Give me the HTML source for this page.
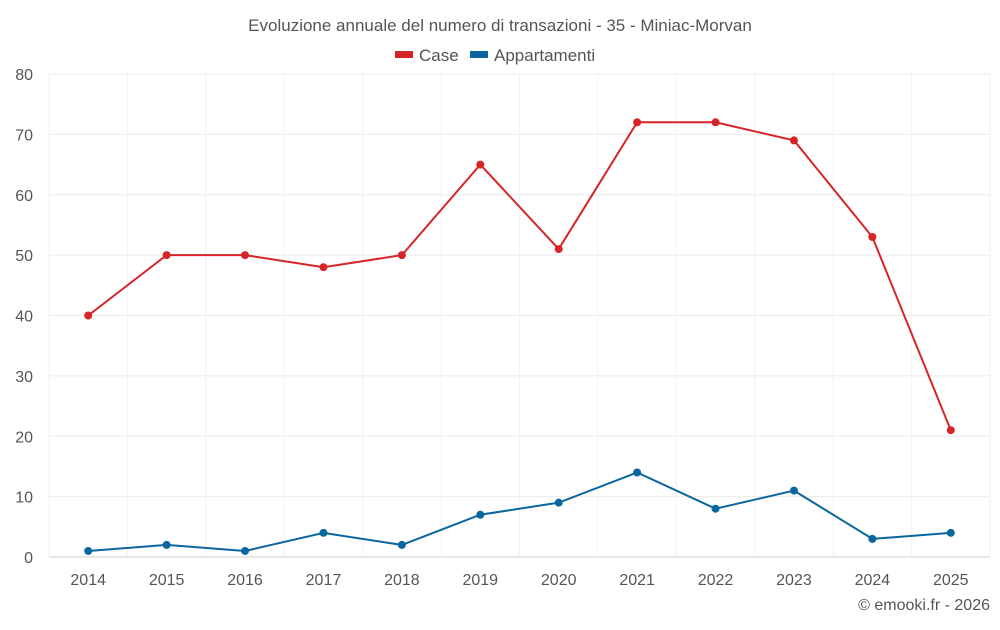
<!DOCTYPE html>
<html><head><meta charset="utf-8"><style>
body{margin:0;background:#fff;font-family:"Liberation Sans",sans-serif;}
svg text{font-family:"Liberation Sans",sans-serif;}
</style></head><body>
<svg id="c" width="1000" height="625">
<text x="500" y="31" text-anchor="middle" font-size="17" fill="#555">Evoluzione annuale del numero di transazioni - 35 - Miniac-Morvan</text>
<g>
<g><rect x="395" y="51" width="18" height="7" fill="#d62528"/><text x="419" y="61" font-size="17" fill="#555">Case</text></g>
<g><rect x="470" y="51" width="18" height="7" fill="#0a679e"/><text x="494" y="61" font-size="17" fill="#555">Appartamenti</text></g>
</g>
<g id="grid"></g>
<g id="axes"></g>
<g id="series"></g>
<text x="990" y="610" text-anchor="end" font-size="16" fill="#555">© emooki.fr - 2026</text>
</svg>
<script>
const categories=["2014","2015","2016","2017","2018","2019","2020","2021","2022","2023","2024","2025"];
const caseValues=[40,50,50,48,50,65,51,72,72,69,53,21];
const appValues=[1,2,1,4,2,7,9,14,8,11,3,4];
const yTicks=[0,10,20,30,40,50,60,70,80];
const L=49,R=990,T=74,B=557,yMax=80;
const bw=(R-L)/categories.length;
const x=i=>L+bw*(i+0.5);
const y=v=>B-(B-T)*v/yMax;
const NS="http://www.w3.org/2000/svg";
function mk(tag,attrs,parent){const e=document.createElementNS(NS,tag);for(const k in attrs)e.setAttribute(k,attrs[k]);parent.appendChild(e);return e;}
const grid=document.getElementById('grid'),axes=document.getElementById('axes'),series=document.getElementById('series');
yTicks.forEach(t=>{
 const ln=mk('line',{x1:L,x2:R,y1:y(t),y2:y(t),stroke:t===0?'#ccc':'#ececec','stroke-width':1},grid);
 
 
 const tx=mk('text',{x:33,y:y(t)+6,'text-anchor':'end','font-size':16,fill:'#555'},axes);
 tx.textContent=t;
 
 
});
for(let i=0;i<=categories.length;i++){
 const ln=mk('line',{x1:L+bw*i,x2:L+bw*i,y1:T,y2:B,stroke:'#f2f2f2','stroke-width':1},grid);
 
 
}
categories.forEach((c,i)=>{
 const tx=mk('text',{x:x(i),y:585,'text-anchor':'middle','font-size':16,fill:'#555'},axes);
 tx.textContent=c;
 
 
});
function draw(vals,color,name){
 const p=mk('polyline',{points:vals.map((v,i)=>x(i)+','+y(v)).join(' '),fill:'none',stroke:color,'stroke-width':2},series);
 
 
 vals.forEach((v,i)=>{
  const c=mk('circle',{cx:x(i),cy:y(v),r:4,fill:color},series);
  
  
 });
}
draw(caseValues,'#d62528','case');
draw(appValues,'#0a679e','appartamenti');
</script>
</body></html>
